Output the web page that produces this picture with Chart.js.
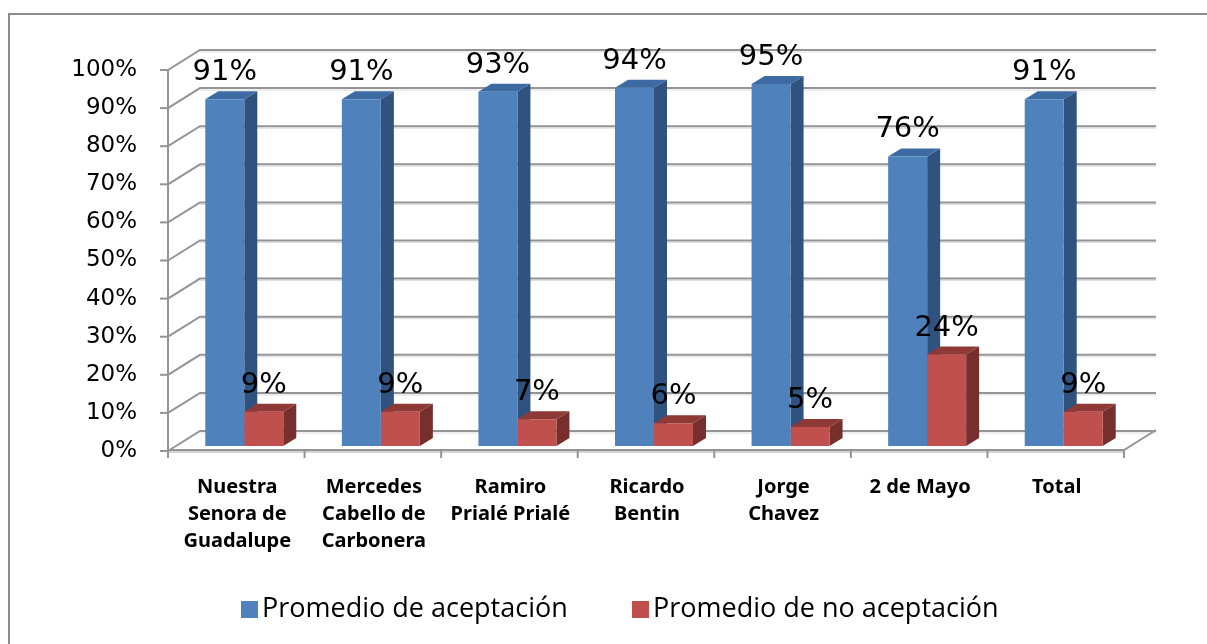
<!DOCTYPE html>
<html>
<head>
<meta charset="utf-8">
<script src="https://cdn.jsdelivr.net/npm/chart.js@4/dist/chart.umd.min.js"></script>
<style>
  html, body { margin: 0; padding: 0; background: #fff; }
  #wrap { position: relative; width: 1207px; height: 644px; }
</style>
</head>
<body>
<div id="wrap"><canvas id="chart" width="1207" height="644"></canvas></div>
<script>
// data
const categories = [
    ['Nuestra', 'Senora de', 'Guadalupe'],
    ['Mercedes', 'Cabello de', 'Carbonera'],
    ['Ramiro', 'Prialé Prialé'],
    ['Ricardo', 'Bentin'],
    ['Jorge', 'Chavez'],
    ['2 de Mayo'],
    ['Total']
];
const seriesNames = ['Promedio de aceptación', 'Promedio de no aceptación'];
const aceptacion = [91, 91, 93, 94, 95, 76, 91];
const noAceptacion = [9, 9, 7, 6, 5, 24, 9];
const yTicks = [0, 10, 20, 30, 40, 50, 60, 70, 80, 90, 100];

// colours (front, top, side)
const faces = [
    { front: '#4F81BD', top: '#3D6AA2', side: '#30527E' },
    { front: '#C0504D', top: '#8F3937', side: '#772F2D' }
];

// depth of the box and of each bar
const BOX_DX = 32, BOX_DY = 20;   // front -> back wall
const FRONT_DX = 8, FRONT_DY = 5; // bar plane -> front edge
const BAR_DX = 13, BAR_DY = 8;    // bar depth

const frame3d = {
    id: 'frame3d',
    beforeDraw(chart) {
        const ctx = chart.ctx;
        ctx.save();
        ctx.fillStyle = '#fff';
        ctx.fillRect(0, 0, chart.width, chart.height);
        // outer border (only top/left visible in the picture)
        ctx.strokeStyle = '#8c8c8c';
        ctx.lineWidth = 2;
        ctx.strokeRect(9, 14, 1300, 700);
        ctx.restore();
    },
    beforeDatasetsDraw(chart) {
        const ctx = chart.ctx;
        const y = chart.scales.y;
        const area = chart.chartArea;
        const fx = area.left - FRONT_DX;           // front left x
        const fxr = area.right - FRONT_DX;         // front right x
        const bx = fx + BOX_DX, bxr = fxr + BOX_DX;
        ctx.save();
        // back wall grid + left wall diagonals
        yTicks.forEach(v => {
            const yb = y.getPixelForValue(v);
            const fy = yb + FRONT_DY;
            const by = fy - BOX_DY;
            ctx.strokeStyle = '#dcdcdc';
            ctx.lineWidth = 1;
            ctx.beginPath();
            ctx.moveTo(bx, by + 2);
            ctx.lineTo(bxr, by + 2);
            ctx.stroke();
            ctx.strokeStyle = '#949494';
            ctx.lineWidth = 2;
            ctx.beginPath();
            ctx.moveTo(fx, fy);
            ctx.lineTo(bx, by);
            ctx.lineTo(bxr, by);
            ctx.stroke();
            // tick on front axis
            ctx.beginPath();
            ctx.moveTo(fx - 8, fy);
            ctx.lineTo(fx, fy);
            ctx.stroke();
        });
        const f0 = y.getPixelForValue(0) + FRONT_DY;
        const f100 = y.getPixelForValue(100) + FRONT_DY;
        // front vertical axis
        ctx.strokeStyle = '#949494';
        ctx.lineWidth = 2;
        ctx.beginPath();
        ctx.moveTo(fx, f100);
        ctx.lineTo(fx, f0);
        ctx.stroke();
        // floor front edge and right edge
        ctx.strokeStyle = '#d4d4d4';
        ctx.lineWidth = 2;
        ctx.beginPath();
        ctx.moveTo(fx, f0 + 1);
        ctx.lineTo(fxr, f0 + 1);
        ctx.stroke();
        ctx.strokeStyle = '#949494';
        ctx.beginPath();
        ctx.moveTo(fx, f0 - 1);
        ctx.lineTo(fxr, f0 - 1);
        ctx.lineTo(fxr + BOX_DX, f0 - 1 - BOX_DY);
        ctx.stroke();
        // category ticks on the floor edge
        const n = categories.length;
        for (let i = 0; i <= n; i++) {
            const tx = fx + (fxr - fx) * i / n;
            ctx.beginPath();
            ctx.moveTo(tx, f0 - 1);
            ctx.lineTo(tx, f0 + 7);
            ctx.stroke();
        }
        // bar side and top faces (front faces are drawn by Chart.js)
        chart.data.datasets.forEach((ds, di) => {
            const meta = chart.getDatasetMeta(di);
            meta.data.forEach(bar => {
                const l = bar.x - bar.width / 2, r = bar.x + bar.width / 2;
                const t = bar.y, b = bar.base;
                ctx.fillStyle = faces[di].side;
                ctx.beginPath();
                ctx.moveTo(r, t);
                ctx.lineTo(r + BAR_DX, t - BAR_DY);
                ctx.lineTo(r + BAR_DX, b - BAR_DY);
                ctx.lineTo(r, b);
                ctx.closePath();
                ctx.fill();
                ctx.fillStyle = faces[di].top;
                ctx.beginPath();
                ctx.moveTo(l, t);
                ctx.lineTo(l + BAR_DX, t - BAR_DY);
                ctx.lineTo(r + BAR_DX, t - BAR_DY);
                ctx.lineTo(r, t);
                ctx.closePath();
                ctx.fill();
            });
        });
        ctx.restore();
    },
    afterDatasetsDraw(chart) {
        const ctx = chart.ctx;
        ctx.save();
        ctx.font = '29px "DejaVu Sans"';
        ctx.fillStyle = '#000';
        ctx.textAlign = 'center';
        ctx.textBaseline = 'alphabetic';
        chart.data.datasets.forEach((ds, di) => {
            chart.getDatasetMeta(di).data.forEach((bar, i) => {
                ctx.fillText(ds.data[i] + '%', bar.x, bar.y - 19);
            });
        });
        // legend
        ctx.font = '27px "Open Sans"';
        ctx.textAlign = 'left';
        ctx.textBaseline = 'middle';
        const legendX = [241, 632];
        seriesNames.forEach((name, i) => {
            ctx.fillStyle = faces[i].front;
            ctx.fillRect(legendX[i], 601, 17, 17);
            ctx.fillStyle = '#000';
            ctx.fillText(name, legendX[i] + 21, 609);
        });
        ctx.restore();
    }
};

const ctx = document.getElementById('chart').getContext('2d');
new Chart(ctx, {
    type: 'bar',
    data: {
        labels: categories,
        datasets: [
            {
                label: seriesNames[0],
                data: aceptacion,
                backgroundColor: faces[0].front,
                borderWidth: 0
            },
            {
                label: seriesNames[1],
                data: noAceptacion,
                backgroundColor: faces[1].front,
                borderWidth: 0
            }
        ]
    },
    options: {
        responsive: false,
        animation: false,
        layout: {
            padding: { left: 0, top: 65, right: 75, bottom: 0 }
        },
        plugins: {
            legend: { display: false },
            tooltip: { enabled: false }
        },
        datasets: {
            bar: {
                categoryPercentage: 0.571,
                barPercentage: 1
            }
        },
        scales: {
            x: {
                grid: { display: false, drawTicks: false },
                border: { display: false },
                afterFit: s => { s.height = 198; },
                ticks: {
                    color: '#000',
                    padding: 28,
                    labelOffset: -7,
                    maxRotation: 0,
                    autoSkip: false,
                    font: { family: 'Noto Sans', size: 20, weight: 'bold', lineHeight: 1.35 }
                }
            },
            y: {
                min: 0,
                max: 100,
                grid: { display: false, drawTicks: false },
                border: { display: false },
                afterFit: s => { s.width = 176; },
                ticks: {
                    stepSize: 10,
                    color: '#000',
                    padding: 39,
                    labelOffset: 5,
                    font: { family: 'DejaVu Sans', size: 23 },
                    callback: v => v + '%'
                }
            }
        }
    },
    plugins: [frame3d]
});
</script>
</body>
</html>
